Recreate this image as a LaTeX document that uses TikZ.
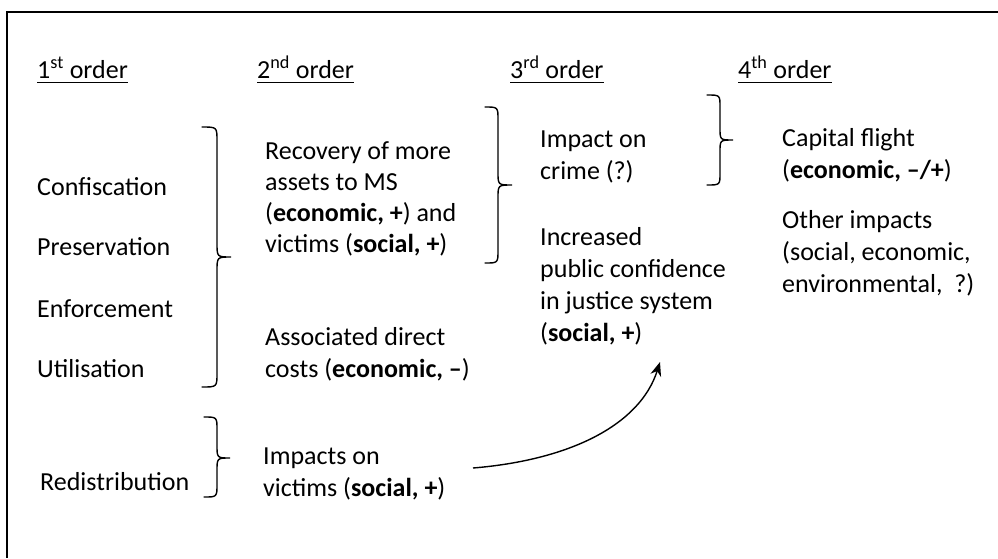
\documentclass[tikz,border=0pt]{standalone}
\usepackage{fontspec}
\setmainfont{Carlito}
\usetikzlibrary{arrows.meta}
\tikzset{
  txt/.style={anchor=base west, inner sep=0pt, align=left, font=\fontsize{26}{32}\selectfont},
  ul/.style={line width=1.6pt},
  brc/.style={line width=1.4pt, line cap=round},
  frame/.style={line width=2pt},
  conn/.style={line width=1.4pt, -{Stealth[length=14pt,width=11pt]}}
}
\begin{document}
\begin{tikzpicture}[x=1pt,y=-1pt]
\useasboundingbox (0,0) rectangle (998,558);
\draw[frame] (998,12) -- (7,12) -- (7,558);
% headers
\node[txt] (h1) at (37,78) {1\textsuperscript{st} order};
\node[txt] (h2) at (257,78) {2\textsuperscript{nd} order};
\node[txt] (h3) at (510,78) {3\textsuperscript{rd} order};
\node[txt] (h4) at (738,78) {4\textsuperscript{th} order};
\foreach \h in {h1,h2,h3,h4}
  \draw[ul] ([yshift=-4.5pt]\h.base west) -- ([yshift=-4.5pt]\h.base east);
% first order
\node[txt] (conf) at (37,195) {Confiscation};
\node[txt] (pres) at (37,255) {Preservation};
\node[txt] (enf) at (37,317) {Enforcement};
\node[txt] (util) at (37,377) {Utilisation};
\node[txt] (red) at (40,490) {Redistribution};
% second order (anchor = last line baseline)
\node[txt, font=\fontsize{26}{31}\selectfont] (rec) at (265,252) {Recovery of more\\assets to MS\\(\textbf{economic, +}) and\\victims (\textbf{social, +})};
\node[txt] (assoc) at (265,377) {Associated direct\\costs (\textbf{economic, –})};
\node[txt] (impv) at (263,496) {Impacts on\\victims (\textbf{social, +})};
% third order
\node[txt] (crime) at (540,179) {Impact on\\crime (?)};
\node[txt] (incr) at (540,341) {Increased\\public confidence\\in justice system\\(\textbf{social, +})};
% fourth order
\node[txt] (cap) at (782,178) {Capital flight\\(\textbf{economic, –/+})};
\node[txt] (other) at (782,292) {Other impacts\\(social, economic,\\environmental,~ ?)};
% braces
\draw[brc] (202,127) .. controls (217,127) .. (217,141) -- (217,243) .. controls (217,257) .. (231,257)
  .. controls (217,257) .. (217,271) -- (217,373) .. controls (217,387) .. (202,387);
\draw[brc] (204,417) .. controls (217,417) .. (217,430) -- (217,445) .. controls (217,458) .. (230,458)
  .. controls (217,458) .. (217,471) -- (217,484) .. controls (217,497) .. (204,497);
\draw[brc] (485,107) .. controls (498,107) .. (498,120) -- (498,172) .. controls (498,185) .. (512,185)
  .. controls (498,185) .. (498,198) -- (498,250) .. controls (498,263) .. (485,263);
\draw[brc] (707,95) .. controls (720,95) .. (720,107) -- (720,128) .. controls (720,140) .. (733,140)
  .. controls (720,140) .. (720,152) -- (720,173) .. controls (720,185) .. (707,185);
% arrow
\coordinate (a1) at (473,468);
\coordinate (a2) at (660,362);
\draw[conn] (a1) .. controls (570,460) and (640,425) .. (a2);
\end{tikzpicture}
\end{document}
